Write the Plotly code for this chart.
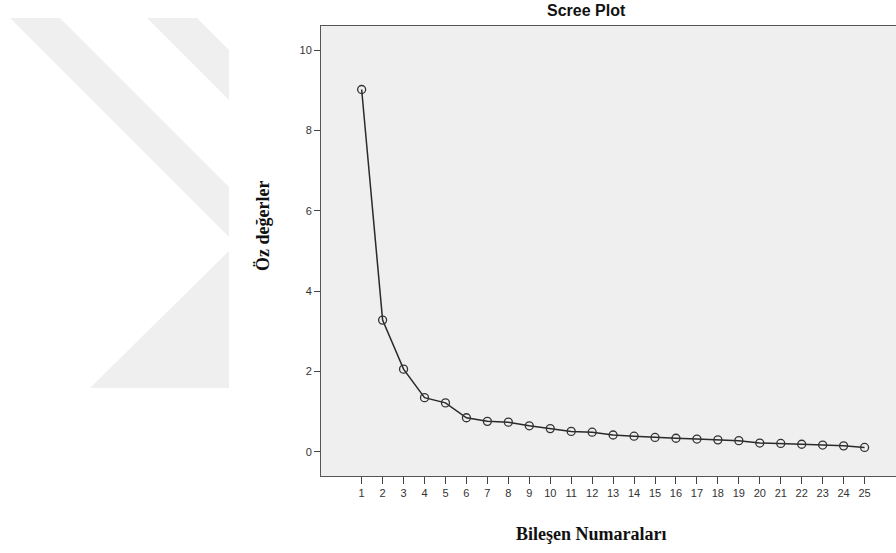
import plotly.graph_objects as go

components = list(range(1, 26))
eigenvalues = [9.02, 3.28, 2.06, 1.35, 1.22, 0.85, 0.76, 0.74, 0.65, 0.58,
               0.51, 0.49, 0.42, 0.39, 0.36, 0.34, 0.32, 0.30, 0.28, 0.22,
               0.21, 0.19, 0.17, 0.15, 0.11]
y_ticks = [0, 2, 4, 6, 8, 10]
title_text = "Scree Plot"
x_title = "Bileşen Numaraları"
y_title = "Öz değerler"

W, H = 896, 553
L, T = 321, 26
BOTTOM = 476
R, B = 0, H - BOTTOM
PW, PH = W - L - R, H - T - B


def px(x):
    return (x - L) / PW


def py(y):
    return (BOTTOM - y) / PH


def poly(pts):
    return "M " + " L ".join(f"{px(a):.5f},{py(b):.5f}" for a, b in pts) + " Z"


wm_color = "#efefef"
watermark = [
    [(10, 18), (60, 18), (229, 187), (229, 237)],
    [(90, 388), (229, 251), (229, 388)],
    [(147, 18), (197, 18), (229, 50), (229, 100)],
]
shapes = [dict(type="path", path=poly(p), xref="paper", yref="paper",
               fillcolor=wm_color, line=dict(width=0), layer="below")
          for p in watermark]

fig = go.Figure()
fig.add_trace(go.Scatter(
    x=components, y=eigenvalues, mode="lines+markers",
    line=dict(color="#2a2a2a", width=1.5),
    marker=dict(symbol="circle-open", size=8, color="#333333",
                line=dict(width=1.3, color="#333333")),
    showlegend=False, cliponaxis=False,
))

fig.update_layout(
    width=W, height=H,
    margin=dict(l=L, r=R, t=T, b=B),
    paper_bgcolor="white",
    plot_bgcolor="#efefef",
    shapes=shapes,
    xaxis=dict(range=[-0.94, 26.5], tickvals=components,
               ticktext=[str(c) for c in components],
               showgrid=False, zeroline=False,
               showline=True, linecolor="#555555", linewidth=1, mirror=True,
               ticks="outside", ticklen=7, tickcolor="#444444",
               tickfont=dict(family="Liberation Sans, Arial", size=11, color="#333333")),
    yaxis=dict(range=[-0.60, 10.60], tickvals=y_ticks,
               showgrid=False, zeroline=False,
               showline=True, linecolor="#555555", linewidth=1,
               ticks="outside", ticklen=6, tickcolor="#444444",
               tickfont=dict(family="Liberation Sans, Arial", size=11, color="#333333")),
    annotations=[
        dict(text=f"<b>{title_text}</b>", x=px(586.5), y=py(11), xref="paper", yref="paper",
             showarrow=False, xanchor="center", yanchor="middle",
             font=dict(family="Liberation Sans, Arial", size=16, color="#111111")),
        dict(text=f"<b>{x_title}</b>", x=px(591), y=py(534), xref="paper", yref="paper",
             showarrow=False, xanchor="center", yanchor="middle",
             font=dict(family="Liberation Serif, Times New Roman", size=18, color="#111111")),
        dict(text=f"<b>{y_title}</b>", x=px(263), y=py(226), xref="paper", yref="paper",
             showarrow=False, xanchor="center", yanchor="middle", textangle=-90,
             font=dict(family="Liberation Serif, Times New Roman", size=18, color="#111111")),
    ],
)

fig.write_html("out.html", config={"displayModeBar": False},
               post_script="document.body.style.margin='0';document.body.style.overflow='hidden';")
